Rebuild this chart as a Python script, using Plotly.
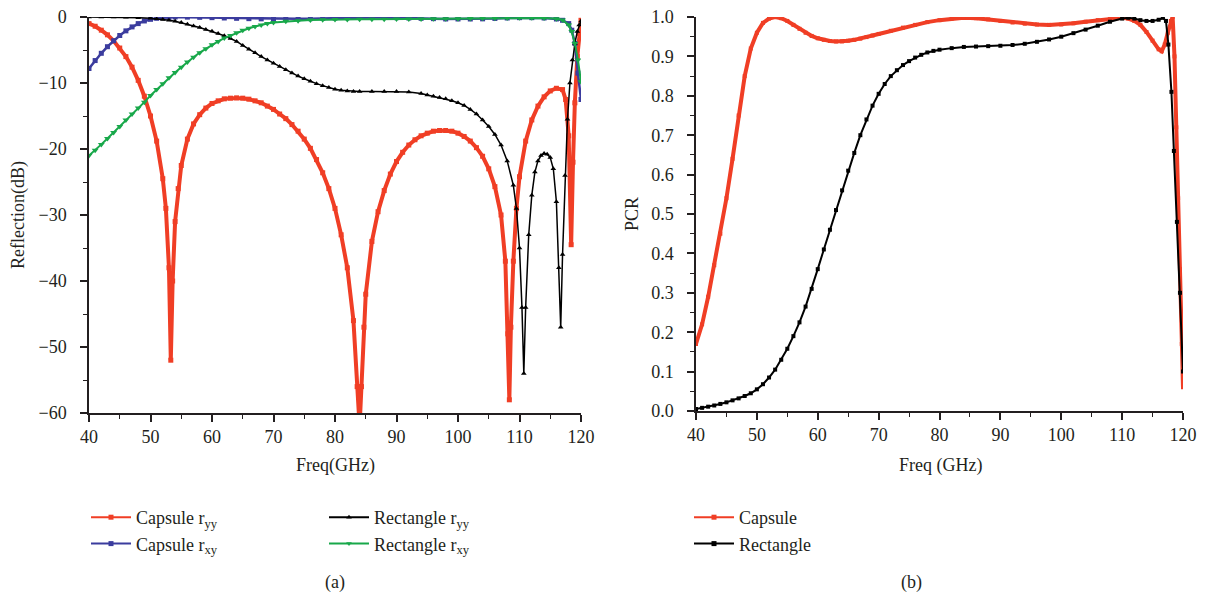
import plotly.graph_objects as go

W, H = 1205, 598

# ---- panel (a): reflection (dB) ----
cap_yy_f = [40, 41, 42, 43, 44, 45, 46, 47, 48, 49, 50, 51, 52, 52.5, 53, 53.3, 53.6, 54, 54.5, 55,
            56, 57, 58, 59, 60, 61, 62, 63, 64, 65, 66, 67, 68, 69, 70, 71, 72, 73, 74, 75,
            76, 77, 78, 79, 80, 81, 82, 83, 83.6, 84, 84.3, 84.7, 85, 86, 87, 88, 89, 90, 91, 92,
            93, 94, 95, 96, 97, 98, 99, 100, 101, 102, 103, 104, 105, 106, 107, 107.7, 108.1, 108.35, 108.6, 109,
            109.5, 110, 111, 112, 113, 114, 115, 116, 117, 117.5, 118, 118.4, 118.7, 119, 119.4, 119.7, 120]
cap_yy = [-1.0, -1.4, -2.0, -2.7, -3.6, -4.7, -6.0, -7.6, -9.6, -12.0, -15.0, -18.8, -24.5, -29, -38, -52, -40, -31, -26, -22.5,
          -18.5, -16.2, -14.8, -13.8, -13.1, -12.7, -12.4, -12.3, -12.25, -12.3, -12.45, -12.7, -13.0, -13.5, -14.0, -14.7, -15.4, -16.3, -17.3, -18.5,
          -19.9, -21.6, -23.6, -26.0, -29.0, -33.0, -38.0, -46.0, -56, -62, -56, -47, -42, -34, -29.5, -26.3, -23.8, -21.9, -20.5, -19.4,
          -18.6, -18.0, -17.6, -17.3, -17.2, -17.2, -17.3, -17.6, -18.1, -18.8, -19.8, -21.1, -23.0, -25.7, -30.0, -37, -48, -58, -47, -37,
          -29, -24.2, -18.8, -15.6, -13.5, -12.1, -11.2, -10.8, -11.0, -12.5, -18, -34.5, -22, -13, -6, -2.5, -0.5]

cap_xy_f = [40, 41, 42, 43, 44, 45, 46, 47, 48, 49, 50, 51, 52, 53, 54, 56, 58, 60, 62, 64,
            66, 68, 70, 72, 74, 76, 78, 80, 82, 84, 86, 88, 90, 92, 94, 96, 98, 100, 102, 104,
            106, 108, 110, 112, 114, 116, 117, 118, 118.5, 119, 119.5, 120]
cap_xy = [-7.8, -6.6, -5.5, -4.5, -3.6, -2.8, -2.1, -1.5, -1.0, -0.6, -0.35, -0.2, -0.1, -0.05, 0, -0.02, -0.05, -0.1, -0.15, -0.2,
          -0.25, -0.28, -0.3, -0.3, -0.28, -0.25, -0.2, -0.15, -0.1, -0.08, -0.07, -0.08, -0.1, -0.15, -0.2, -0.25, -0.3, -0.3, -0.3, -0.28,
          -0.22, -0.15, -0.1, -0.1, -0.15, -0.3, -0.5, -1.0, -2.0, -4.0, -8.5, -12.5]

rect_yy_f = [40, 42, 44, 46, 48, 50, 51, 52, 53, 54, 55, 56, 57, 58, 59, 60, 61, 62, 63, 64,
             65, 66, 67, 68, 69, 70, 71, 72, 73, 74, 75, 76, 77, 78, 79, 80, 81, 82, 83, 84,
             86, 88, 90, 92, 94, 95, 96, 97, 98, 99, 100, 101, 102, 103, 104, 105, 106, 107, 108, 109,
             109.5, 110, 110.4, 110.7, 111, 111.5, 112, 112.5, 113, 113.5, 114, 114.5, 115, 115.5, 116, 116.4, 116.7, 117, 117.4, 117.8,
             118.2, 118.6, 119, 119.4, 119.7, 120]
rect_yy = [0, 0, 0, -0.05, -0.1, -0.2, -0.28, -0.38, -0.5, -0.65, -0.85, -1.1, -1.35, -1.6, -1.9, -2.15, -2.5, -2.85, -3.25, -3.7,
           -4.3, -4.9, -5.4, -6.0, -6.5, -7.0, -7.5, -8.0, -8.5, -8.95, -9.35, -9.75, -10.1, -10.4, -10.7, -10.95, -11.1, -11.2, -11.28, -11.3,
           -11.3, -11.3, -11.3, -11.35, -11.6, -11.8, -12.0, -12.2, -12.4, -12.7, -13.0, -13.4, -14.0, -14.7, -15.6, -16.6, -17.8, -19.4, -21.8, -25.5,
           -29, -35, -44, -54, -44, -33, -27, -23.5, -21.8, -21.0, -20.7, -20.8, -21.3, -23, -28, -38, -47, -36, -24, -15.5,
           -10, -6.5, -4.0, -2.2, -1.2, -0.6]

rect_xy_f = [40, 41, 42, 43, 44, 45, 46, 47, 48, 49, 50, 51, 52, 53, 54, 55, 56, 57, 58, 59,
             60, 61, 62, 63, 64, 65, 66, 67, 68, 69, 70, 72, 74, 76, 78, 80, 82, 84, 86, 88,
             90, 92, 94, 96, 98, 100, 102, 104, 106, 108, 110, 112, 114, 116, 117, 118, 118.5, 119, 119.5, 120]
rect_xy = [-21.0, -20.2, -19.3, -18.4, -17.5, -16.6, -15.6, -14.7, -13.8, -12.9, -11.9, -11.0, -10.1, -9.2, -8.4, -7.6, -6.8, -6.1, -5.4, -4.8,
           -4.2, -3.7, -3.2, -2.8, -2.4, -2.0, -1.7, -1.45, -1.2, -1.0, -0.85, -0.65, -0.55, -0.45, -0.4, -0.38, -0.36, -0.35, -0.34, -0.33,
           -0.32, -0.3, -0.29, -0.28, -0.27, -0.25, -0.23, -0.2, -0.18, -0.15, -0.12, -0.12, -0.15, -0.25, -0.45, -1.2, -2.2, -4.0, -6.5, -9.8]

# ---- panel (b): PCR ----
cap_pcr_f = [40, 41, 42, 43, 44, 45, 46, 47, 48, 49, 50, 51, 52, 53, 54, 55, 56, 57, 58, 59,
             60, 61, 62, 63, 64, 65, 66, 67, 68, 69, 70, 72, 74, 76, 78, 80, 82, 84, 86, 88,
             90, 92, 94, 96, 98, 100, 102, 104, 106, 108, 110, 111, 112, 113, 114, 115, 116, 116.5, 117, 117.5,
             118, 118.3, 118.6, 118.9, 119.2, 119.5, 119.8, 120]
cap_pcr = [0.17, 0.22, 0.29, 0.37, 0.45, 0.54, 0.64, 0.75, 0.85, 0.92, 0.96, 0.985, 0.996, 1.0, 0.997, 0.99, 0.98, 0.97, 0.96, 0.952,
           0.946, 0.942, 0.939, 0.938, 0.938, 0.94, 0.942, 0.945, 0.949, 0.953, 0.957, 0.965, 0.973, 0.98, 0.987, 0.992, 0.996, 0.998, 0.997, 0.994,
           0.99, 0.986, 0.983, 0.981, 0.98, 0.981, 0.984, 0.988, 0.992, 0.996, 0.998, 0.996, 0.99, 0.98, 0.962, 0.94, 0.918, 0.913, 0.93, 0.96,
           0.99, 1.0, 0.9, 0.72, 0.54, 0.36, 0.17, 0.06]

rect_pcr_f = [40, 41, 42, 43, 44, 45, 46, 47, 48, 49, 50, 51, 52, 53, 54, 55, 56, 57, 58, 59,
              60, 61, 62, 63, 64, 65, 66, 67, 68, 69, 70, 71, 72, 73, 74, 75, 76, 77, 78, 79,
              80, 82, 84, 86, 88, 90, 92, 94, 96, 98, 100, 102, 104, 106, 108, 110, 111, 112, 113, 114,
              115, 116, 116.7, 117.2, 117.6, 118.1, 118.5, 119, 119.5, 120]
rect_pcr = [0.005, 0.008, 0.011, 0.014, 0.018, 0.022, 0.027, 0.032, 0.038, 0.045, 0.055, 0.068, 0.085, 0.105, 0.13, 0.158, 0.19, 0.225, 0.265, 0.31,
            0.36, 0.41, 0.46, 0.51, 0.56, 0.61, 0.655, 0.7, 0.74, 0.775, 0.805, 0.83, 0.85, 0.865, 0.878, 0.888, 0.897, 0.904, 0.91, 0.914,
            0.917, 0.921, 0.924, 0.925, 0.926, 0.927, 0.929, 0.932, 0.937, 0.943, 0.95, 0.959, 0.968, 0.978, 0.988, 0.996, 0.998, 0.996, 0.992, 0.99,
            0.99, 0.993, 0.998, 0.99, 0.93, 0.81, 0.66, 0.48, 0.3, 0.1]

RED = "#f03e25"
BLUE = "#3b3c9e"
GREEN = "#18a84a"
BLACK = "#000000"
FONT = "Liberation Serif"
TXT = "#231f20"

fig = go.Figure()

# (name, x, y, color, line width, symbol, marker size, axes, legend)
series = [
    ("Capsule r<sub>yy</sub>", cap_yy_f, cap_yy, RED, 4, "square", 5, "x", "y", "legend"),
    ("Capsule r<sub>xy</sub>", cap_xy_f, cap_xy, BLUE, 2.5, "square", 5, "x", "y", "legend"),
    ("Rectangle r<sub>yy</sub>", rect_yy_f, rect_yy, BLACK, 1.5, "triangle-up", 5, "x", "y", "legend2"),
    ("Rectangle r<sub>xy</sub>", rect_xy_f, rect_xy, GREEN, 2, "triangle-down", 6, "x", "y", "legend2"),
    ("Capsule", cap_pcr_f, cap_pcr, RED, 4, "square", 4, "x2", "y2", "legend3"),
    ("Rectangle", rect_pcr_f, rect_pcr, BLACK, 2, "square", 4, "x2", "y2", "legend3"),
]

for name, xs, ys, col, lw, sym, ms, xa, ya, lg in series:
    fig.add_trace(go.Scatter(x=xs, y=ys, name=name, mode="lines+markers", showlegend=False,
                             line=dict(color=col, width=lw), marker=dict(symbol=sym, size=ms, color=col),
                             xaxis=xa, yaxis=ya))
    # thin legend sample like the original
    fig.add_trace(go.Scatter(x=[None], y=[None], name=name, mode="lines+markers", legend=lg,
                             line=dict(color=col, width=2), marker=dict(symbol=sym, size=5, color=col),
                             xaxis=xa, yaxis=ya))

# the page puts the plot 8px in from the top-left corner
OFF = 8

def px(x):
    return (x - OFF) / W

def py(y):
    return (H - (y - OFF)) / H

axis_common = dict(showline=True, linecolor="#231f20", linewidth=1.5, ticks="outside", ticklen=7,
                   tickwidth=1.5, tickcolor="#231f20", showgrid=False, zeroline=False,
                   ticklabeloverflow="allow",
                   tickfont=dict(family=FONT, size=18, color=TXT))
minor = dict(ticks="outside", ticklen=4, tickwidth=1.2, tickcolor="#231f20")

legend_common = dict(xanchor="left", yanchor="top", bgcolor="rgba(0,0,0,0)",
                     font=dict(family=FONT, size=18, color=TXT), itemwidth=40, tracegroupgap=0)

fig.update_layout(
    width=W, height=H, margin=dict(l=0, r=0, t=0, b=0, autoexpand=False),
    plot_bgcolor="white", paper_bgcolor="white",
    font=dict(family=FONT, size=18, color=TXT),
    xaxis=dict(domain=[px(89), px(581)], range=[40, 120], dtick=10, anchor="y",
               minor=dict(dtick=5, **minor), **axis_common),
    yaxis=dict(domain=[py(413), py(17)], range=[-60, 0], dtick=10, anchor="x", ticklabelstandoff=10,
               minor=dict(dtick=5, **minor), **axis_common),
    xaxis2=dict(domain=[px(696), px(1183)], range=[40, 120], dtick=10, anchor="y2",
                minor=dict(dtick=5, **minor), **axis_common),
    yaxis2=dict(domain=[py(411), py(17)], range=[0, 1.0], dtick=0.1, tickformat=".1f", anchor="x2",
                ticklabelstandoff=10, minor=dict(dtick=0.05, **minor), **axis_common),
    legend=dict(x=px(86), y=py(499), **legend_common),
    legend2=dict(x=px(324), y=py(499), **legend_common),
    legend3=dict(x=px(689), y=py(499), **legend_common),
    showlegend=True,
)

annots = [
    dict(text="Reflection(dB)", x=px(18), y=py(215), textangle=-90),
    dict(text="PCR", x=px(632), y=py(214), textangle=-90),
    dict(text="Freq(GHz)", x=px(335), y=py(466)),
    dict(text="Freq (GHz)", x=px(940), y=py(466)),
    dict(text="(a)", x=px(335), y=py(582)),
    dict(text="(b)", x=px(911), y=py(582)),
]
for a in annots:
    fig.add_annotation(xref="paper", yref="paper", showarrow=False, xanchor="center", yanchor="middle",
                       font=dict(family=FONT, size=18, color=TXT), **a)

fig.write_html("out.html")
